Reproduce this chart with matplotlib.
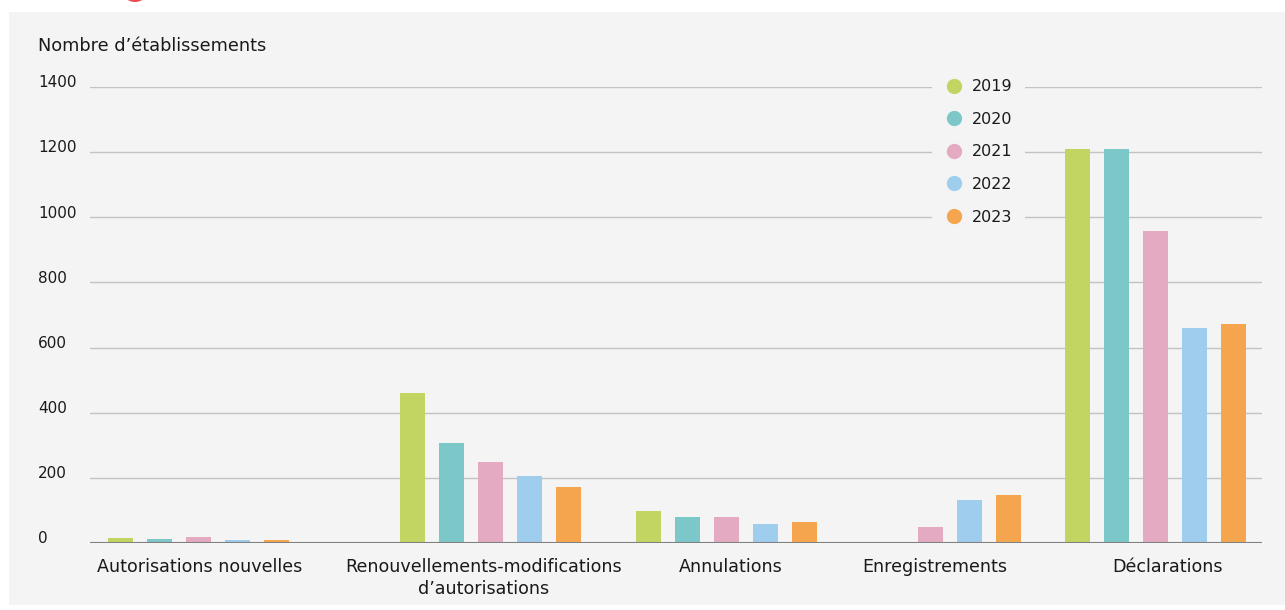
import matplotlib.pyplot as plt
from matplotlib.patches import Rectangle, Ellipse
from matplotlib.lines import Line2D
import matplotlib.transforms as mtransforms

# Nombre d'établissements par type de procédure et par année
categories = ["Autorisations nouvelles",
              "Renouvellements-modifications\nd\u2019autorisations",
              "Annulations", "Enregistrements", "Déclarations"]
years = ["2019", "2020", "2021", "2022", "2023"]
v2019 = [16, 460, 98, 0, 1210]
v2020 = [11, 307, 80, 0, 1210]
v2021 = [19, 249, 80, 50, 958]
v2022 = [8, 206, 59, 133, 660]
v2023 = [9, 172, 65, 148, 672]
yticks = [0, 200, 400, 600, 800, 1000, 1200, 1400]

series = [v2019, v2020, v2021, v2022, v2023]
colors = ["#c2d562", "#7cc8c9", "#e4aac2", "#9ecdee", "#f6a54f"]

# layout (in bar-step units)
group_x = [0, 7.49, 13.54, 18.77, 24.54]
label_x = [0.03, 7.31, 13.64, 18.87, 24.85]
bar_w = 0.64

W, H = 1285, 610
fig = plt.figure(figsize=(W / 100, H / 100), dpi=100)
fig.patch.set_facecolor("white")
bg = "#f4f4f4"
fig.patches.append(Rectangle((9 / W, 5 / H), 1 - 9 / W, (598 - 5) / H,
                             transform=fig.transFigure, facecolor=bg,
                             edgecolor="none", zorder=-1))
fig.patches.append(Ellipse((135 / W, (H + 12) / H), 28 / W, 28 / H,
                           transform=fig.transFigure, facecolor="#ec4a50",
                           edgecolor="none", zorder=-1))

ax = fig.add_axes([90 / W, 67 / H, 1172 / W, 456 / H])
ax.patch.set_alpha(0)

for i, vals in enumerate(series):
    xs = [g + (i - 2) for g in group_x]
    ax.bar(xs, vals, width=bar_w, color=colors[i], zorder=3)

ax.set_xlim(-2.79, -2.79 + 1172 / 39)
ax.set_ylim(0, 1400)

for s in ax.spines.values():
    s.set_visible(False)
ax.axhline(0, color="#808080", lw=1.5, zorder=4)
for t in yticks[1:]:
    ax.axhline(t, color="#c3c3c3", lw=1.0, zorder=1)

ax.set_yticks([])
ax.set_xticks(label_x)
ax.set_xticklabels(categories, fontsize=12.6, color="#1a1a1a", linespacing=1.25,
                   va="top")
ax.tick_params(axis="x", length=0, pad=11)

ytrans = mtransforms.offset_copy(ax.get_yaxis_transform(), fig=fig, y=3, units="points")
for t in yticks:
    ax.text(-52 / 1172, t, str(t), transform=ytrans, ha="left", va="center",
            fontsize=11, color="#1a1a1a", clip_on=False)

fig.text(38 / W, 1 - 46 / H, "Nombre d\u2019établissements", ha="left", va="center",
         fontsize=12.8, color="#1a1a1a")

handles = [Line2D([], [], marker="o", linestyle="none", markersize=11,
                  markerfacecolor=c, markeredgecolor="none") for c in colors]
leg = fig.legend(handles, years, loc="upper left",
                 bbox_to_anchor=(932 / W, 1 - 66.5 / H), frameon=True,
                 facecolor=bg, edgecolor="none", framealpha=1,
                 fontsize=11.5, labelspacing=1.1, handletextpad=0.5,
                 borderpad=0.8, handlelength=1.2, borderaxespad=0)
leg.set_zorder(5)
for txt in leg.get_texts():
    txt.set_color("#1a1a1a")

fig.savefig("out.png", dpi=100, facecolor=fig.get_facecolor())
